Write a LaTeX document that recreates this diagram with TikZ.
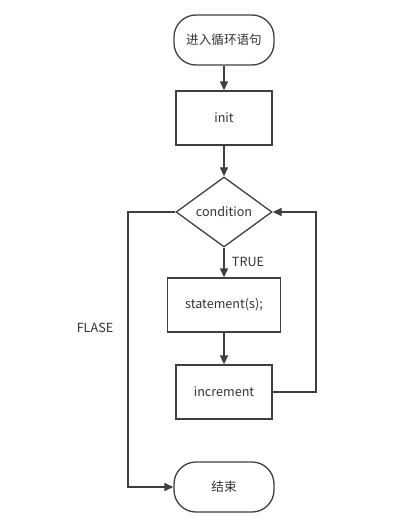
\documentclass[tikz,border=0pt]{standalone}
\usepackage{fontspec}
\setmainfont{Noto Sans CJK SC}
\usetikzlibrary{shapes.geometric,arrows.meta}
\definecolor{ln}{HTML}{3F3F3F}
\definecolor{tx}{HTML}{333333}
\begin{document}
\begin{tikzpicture}[x=1pt,y=-1pt,
  every node/.style={font=\fontsize{12.6}{14}\selectfont, text=tx},
  term/.style={draw=ln, line width=1.3pt, rounded corners=22pt, minimum width=100pt, minimum height=50pt, inner sep=0pt},
  proc/.style={draw=ln, line width=1.3pt, minimum width=96pt, minimum height=54pt, inner sep=0pt},
  dec/.style={draw=ln, line width=1.3pt, diamond, minimum width=96pt, minimum height=70pt, inner sep=0pt},
  flow/.style={draw=ln, line width=1.3pt, -{Triangle[length=9pt,width=8pt]}},
  lbl/.style={inner sep=0pt}]
\useasboundingbox (0,0) rectangle (418,530);
\node[term] (start) at (224,40) {进入循环语句};
\node[proc] (init) at (224,118) {init};
\node[dec] (cond) at (224,212) {condition};
\node[proc, minimum width=113pt] (stmt) at (224,305) {statement(s);};
\node[proc] (inc) at (224,392) {increment};
\node[term] (end) at (224,487) {结束};
\coordinate (lc1) at (128,212);
\coordinate (lc2) at (128,487);
\coordinate (rc1) at (316,392);
\coordinate (rc2) at (316,212);
\draw[flow] (start) -- (init);
\draw[flow] (init) -- (cond);
\draw[flow] (cond) -- (stmt);
\draw[flow] (stmt) -- (inc);
\draw[flow] (cond.west) -- (lc1) -- (lc2) -- (end.west);
\draw[flow] (inc.east) -- (rc1) -- (rc2) -- (cond.east);
\node[lbl] (true) at (248,262) {TRUE};
\node[lbl] (false) at (95,328) {FLASE};
\end{tikzpicture}
\end{document}
